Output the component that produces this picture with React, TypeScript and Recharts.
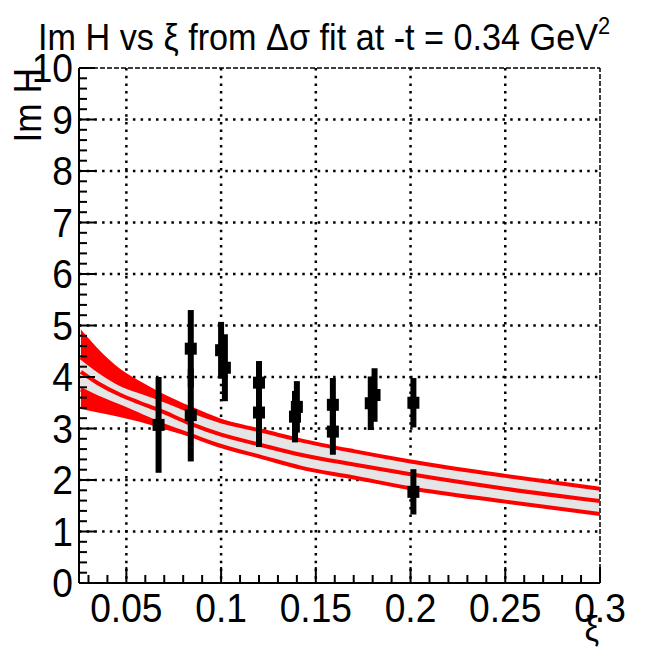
import React from 'react';
import {
  ComposedChart,
  Area,
  Line,
  Scatter,
  ErrorBar,
  XAxis,
  YAxis,
  CartesianGrid,
  ReferenceLine,
} from 'recharts';

// fit curve
const curveXi = [0.026, 0.035, 0.047, 0.057, 0.067, 0.084, 0.1, 0.121, 0.142, 0.17, 0.2, 0.25, 0.3];
const curveMid = [4.1, 3.88, 3.65, 3.5, 3.36, 3.09, 2.88, 2.68, 2.49, 2.3, 2.11, 1.83, 1.59];
const bandUp = [4.38, 4.13, 3.86, 3.72, 3.59, 3.34, 3.14, 2.96, 2.77, 2.56, 2.36, 2.08, 1.83];
const bandLow = [3.76, 3.6, 3.42, 3.26, 3.1, 2.87, 2.66, 2.45, 2.24, 2.05, 1.84, 1.58, 1.34];
const outerUp = [4.92, 4.55, 4.15, 3.92, 3.72, 3.43, 3.19, 2.97, 2.77, 2.56, 2.36, 2.08, 1.83];
const outerLow = [3.38, 3.31, 3.22, 3.13, 3.02, 2.84, 2.66, 2.45, 2.24, 2.05, 1.84, 1.58, 1.34];

// data points
const pointXi = [0.067, 0.084, 0.084, 0.1, 0.102, 0.12, 0.12, 0.14, 0.139, 0.159, 0.159, 0.181, 0.179, 0.2015, 0.2015];
const pointY = [3.07, 4.55, 3.26, 4.52, 4.18, 3.89, 3.31, 3.42, 3.23, 3.46, 2.94, 3.65, 3.49, 3.5, 1.77];
const pointErr = [0.93, 0.75, 0.9, 0.55, 0.65, 0.42, 0.67, 0.5, 0.5, 0.52, 0.45, 0.52, 0.52, 0.48, 0.44];

const xMajor = [0.05, 0.1, 0.15, 0.2, 0.25, 0.3];
const xLabels = ['0.05', '0.1', '0.15', '0.2', '0.25', '0.3'];
const yMajor = [0, 1, 2, 3, 4, 5, 6, 7, 8, 9, 10];
const yLabels = ['0', '1', '2', '3', '4', '5', '6', '7', '8', '9', '10'];

const curveData = curveXi.map((xi, i) => ({
  xi,
  outer: [outerLow[i], outerUp[i]],
  band: [bandLow[i], bandUp[i]],
  up: bandUp[i],
  low: bandLow[i],
  mid: curveMid[i],
}));

const pointData = pointXi.map((xi, i) => ({ xi, y: pointY[i], err: pointErr[i] }));

// tick positions incl. minor ones
const xTicks: number[] = [];
for (let i = 3; i <= 30; i++) xTicks.push(i / 100);
const yTicks: number[] = [];
for (let i = 0; i <= 50; i++) yTicks.push(i / 5);

const FONT = "'Liberation Sans', Arial, sans-serif";
const SQ = 0.93; // slightly narrow helvetica look

const findLabel = (v: number, majors: number[], labels: string[]) => {
  const k = majors.findIndex((m) => Math.abs(m - v) < 1e-9);
  return k >= 0 ? labels[k] : null;
};

const XTick = (props: any) => {
  const { x, y, payload } = props;
  const lab = findLabel(payload.value, xMajor, xLabels);
  return (
    <g>
      <line x1={x} x2={x} y1={y} y2={y - (lab ? 16 : 8)} stroke="#000" strokeWidth={2} />
      {lab && (
        <text
          transform={`translate(${x},${y + 39}) scale(${SQ},1)`}
          textAnchor="middle"
          fontFamily={FONT}
          fontSize={40}
          fill="#000"
        >
          {lab}
        </text>
      )}
    </g>
  );
};

const YTick = (props: any) => {
  const { x, y, payload } = props;
  const lab = findLabel(payload.value, yMajor, yLabels);
  return (
    <g>
      <line x1={x} x2={x + (lab ? 16 : 8)} y1={y} y2={y} stroke="#000" strokeWidth={2} />
      {lab && (
        <text
          transform={`translate(${x - 6},${y + 14}) scale(${SQ},1)`}
          textAnchor="end"
          fontFamily={FONT}
          fontSize={40}
          fill="#000"
        >
          {lab}
        </text>
      )}
    </g>
  );
};

const Square = (props: any) => {
  const { cx, cy } = props;
  return <rect x={cx - 6} y={cy - 6} width={12} height={12} fill="#000" />;
};

export default function App() {
  return (
    <div style={{ position: 'absolute', left: 0, top: 0, width: 646, height: 648, background: '#fff' }}>
      <ComposedChart
        width={646}
        height={648}
        data={curveData}
        margin={{ top: 68, right: 46, left: 0, bottom: 0 }}
      >
        <CartesianGrid
          stroke="#000"
          strokeWidth={2.5}
          strokeDasharray="2.5 5.2"
          horizontalValues={yMajor.slice(1, -1)}
          verticalValues={xMajor.slice(0, -1)}
        />
        <XAxis
          dataKey="xi"
          type="number"
          domain={[0.025, 0.3]}
          allowDataOverflow
          ticks={xTicks}
          interval={0}
          tickSize={0}
          tickMargin={0}
          tickLine={false}
          tick={<XTick />}
          axisLine={{ stroke: '#000', strokeWidth: 2 }}
          height={65}
        />
        <YAxis
          type="number"
          domain={[0, 10]}
          allowDataOverflow
          ticks={yTicks}
          interval={0}
          tickSize={0}
          tickMargin={0}
          tickLine={false}
          tick={<YTick />}
          axisLine={{ stroke: '#000', strokeWidth: 2 }}
          width={79}
        />
        <ReferenceLine y={10} stroke="#000" strokeWidth={1.5} strokeDasharray="5 2" />
        <ReferenceLine x={0.3} stroke="#000" strokeWidth={1.5} strokeDasharray="5 2" />
        <Area
          type="monotone"
          dataKey="outer"
          stroke="none"
          fill="#ff0000"
          fillOpacity={1}
          isAnimationActive={false}
        />
        <Area
          type="monotone"
          dataKey="band"
          stroke="none"
          fill="#e5e5e5"
          fillOpacity={1}
          isAnimationActive={false}
        />
        <Line type="monotone" dataKey="up" stroke="#ff0000" strokeWidth={4} dot={false} isAnimationActive={false} />
        <Line type="monotone" dataKey="low" stroke="#ff0000" strokeWidth={4} dot={false} isAnimationActive={false} />
        <Line type="monotone" dataKey="mid" stroke="#ff0000" strokeWidth={4} dot={false} isAnimationActive={false} />
        <Scatter data={pointData} dataKey="y" shape={<Square />} isAnimationActive={false}>
          <ErrorBar dataKey="err" direction="y" width={0} stroke="#000" strokeWidth={6} />
        </Scatter>
      </ComposedChart>
      <svg
        width={646}
        height={648}
        style={{ position: 'absolute', left: 0, top: 0, pointerEvents: 'none' }}
      >
        <text
          transform={`translate(38,50) scale(0.95,1)`}
          fontFamily={FONT}
          fontSize={36}
          fill="#000"
        >
          Im H vs ξ from Δσ fit at -t = 0.34 GeV
          <tspan dy={-16} fontSize={23}>2</tspan>
        </text>
        <text
          transform={`translate(41,68) rotate(-90) scale(${SQ},1)`}
          textAnchor="end"
          fontFamily={FONT}
          fontSize={38}
          fill="#000"
        >
          Im H
        </text>
        <text
          transform={`translate(599,641) scale(${SQ},1)`}
          textAnchor="end"
          fontFamily={FONT}
          fontSize={35}
          fill="#000"
        >
          ξ
        </text>
      </svg>
    </div>
  );
}
